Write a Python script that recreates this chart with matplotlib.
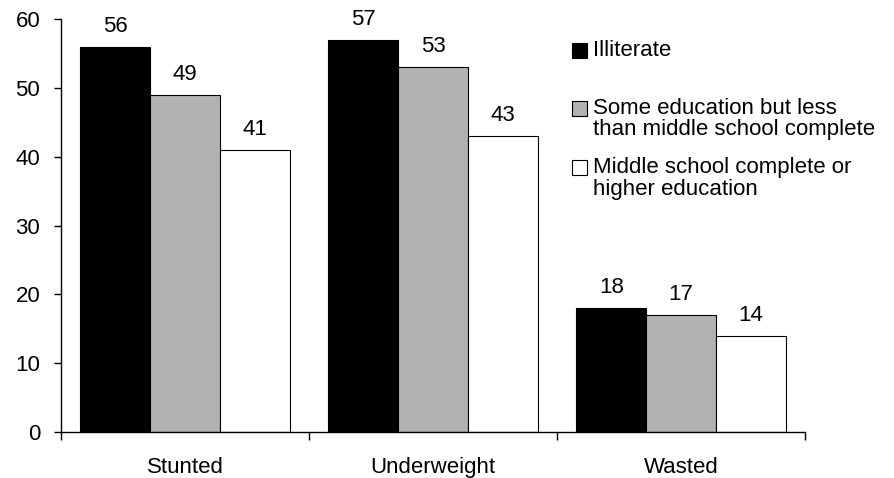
import numpy as np
import matplotlib.pyplot as plt
from matplotlib.patches import Rectangle

plt.rcParams['font.family'] = ['Liberation Sans', 'DejaVu Sans']

categories = ["Stunted", "Underweight", "Wasted"]
series_names = ["Illiterate",
                "Some education but less\nthan middle school complete",
                "Middle school complete or\nhigher education"]
illiterate = [56, 57, 18]
some_edu = [49, 53, 17]
middle_plus = [41, 43, 14]
colors = ["#000000", "#b2b2b2", "#ffffff"]

W, H = 894, 478
fig = plt.figure(figsize=(W / 100, H / 100), dpi=100)
ax = fig.add_axes([61 / W, 1 - 432 / H, (805 - 61) / W, (432 - 19) / H])

x = np.arange(len(categories))
bw = 0.281
for i, vals in enumerate([illiterate, some_edu, middle_plus]):
    bars = ax.bar(x + (i - 1) * bw, vals, bw, color=colors[i],
                  edgecolor="black", linewidth=0.8)
    for b, v in zip(bars, vals):
        ax.annotate(str(v), (b.get_x() + b.get_width() / 2, v),
                    xytext=(0, 7), textcoords="offset points",
                    ha="center", va="bottom", fontsize=16)

ax.set_xlim(-0.5, 2.5)
ax.set_ylim(0, 60)
ax.set_yticks(range(0, 61, 10))
ax.tick_params(axis="y", direction="out", length=5, width=1, pad=10, labelsize=16)
ax.set_xticks(x)
ax.set_xticklabels(categories)
ax.tick_params(axis="x", which="major", length=0, pad=18, labelsize=16)
ax.set_xticks(np.arange(-0.5, 3, 1), minor=True)
ax.tick_params(axis="x", which="minor", direction="out", length=6, width=1)
for s in ["top", "right"]:
    ax.spines[s].set_visible(False)
for s in ["left", "bottom"]:
    ax.spines[s].set_linewidth(1)

# legend drawn by hand to match spacing of the original
entry_y = [50, 108, 167]
for name, col, yc in zip(series_names, colors, entry_y):
    fig.patches.append(Rectangle((572 / W, 1 - (yc + 7.5) / H), 15 / W, 15 / H,
                                 transform=fig.transFigure, facecolor=col,
                                 edgecolor="black", linewidth=0.8))
    for k, line in enumerate(name.split("\n")):
        fig.text(593 / W, 1 - (yc + k * 22) / H, line, ha="left",
                 va="center", fontsize=16)

plt.savefig("out.png", dpi=100)
